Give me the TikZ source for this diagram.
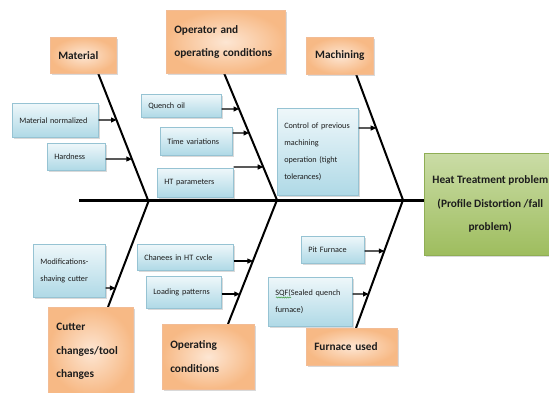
\documentclass[tikz,border=0pt]{standalone}
\usepackage{fontspec}
\setmainfont{Carlito}
\usetikzlibrary{arrows.meta,shadows,calc,decorations.pathmorphing}
\definecolor{bluetop}{HTML}{EEF7FA}
\definecolor{bluebot}{HTML}{AFD9E6}
\definecolor{blueedge}{HTML}{96C3D3}
\definecolor{orin}{HTML}{FDE6D3}
\definecolor{orout}{HTML}{F7B985}
\definecolor{oredge}{HTML}{F2BC95}
\definecolor{grtop}{HTML}{CADCA6}
\definecolor{grbot}{HTML}{9EBD5E}
\definecolor{gredge}{HTML}{8FAE55}
\definecolor{txt}{HTML}{1C1C1C}
\definecolor{squiggle}{HTML}{3E9B3E}
\newcommand{\smallfnt}{\fontsize{8.2}{17}\selectfont}
\newcommand{\headfnt}{\fontsize{11.3}{23.5}\selectfont\bfseries}
\begin{document}
\begin{tikzpicture}[x=1pt,y=-1pt,
  shadowed/.style={drop shadow={shadow xshift=1.2pt,shadow yshift=-1.6pt,opacity=0.3}},
  bluebox/.style={shadowed,draw=blueedge,line width=0.6pt,top color=bluetop,bottom color=bluebot,
    inner xsep=7pt,inner ysep=1pt,align=left,font=\smallfnt,text=txt,anchor=north west},
  orbox/.style={shadowed,draw=oredge,line width=0.6pt,inner color=orin,outer color=orout,
    inner xsep=8pt,inner ysep=1pt,align=left,font=\headfnt,text=txt,anchor=north west},
  grbox/.style={shadowed,draw=gredge,line width=0.6pt,top color=grtop,bottom color=grbot,
    inner ysep=1pt,align=center,font=\headfnt,text=txt,anchor=north west},
  bone/.style={line width=2pt,black},
  spine/.style={line width=3pt,black},
  arr/.style={line width=1.1pt,black,-{Triangle[length=5.5pt,width=5pt]}},
  squig/.style={draw=squiggle,line width=0.5pt,decorate,decoration={snake,amplitude=0.6pt,segment length=2.2pt}}
]
\useasboundingbox (0,0) rectangle (549,392);
\clip (0,0) rectangle (549,392);

% bone end points
\coordinate (spL) at (79,200);
\coordinate (mT) at (98,73);   \coordinate (mB) at (148,200);
\coordinate (oT) at (224,73);  \coordinate (oB) at (277,200);
\coordinate (kT) at (356,74);  \coordinate (kB) at (403,200);
\coordinate (cB) at (149,200); \coordinate (cT) at (108,307);
\coordinate (pB) at (277,200); \coordinate (pT) at (228,324);
\coordinate (fB) at (403,200); \coordinate (fT) at (356,328);

% bones and spine
\draw[bone] (mT) -- (mB);
\draw[bone] (oT) -- (oB);
\draw[bone] (kT) -- (kB);
\draw[bone] (cT) -- (cB);
\draw[bone] (pT) -- (pB);
\draw[bone] (fT) -- (fB);

% header boxes
\node[orbox,minimum width=66pt,minimum height=36pt,text width=50pt] (mat) at (50,37) {Material};
\node[orbox,minimum width=119pt,minimum height=63pt,text width=103pt] (opr) at (166,10) {Operator and\\operating conditions};
\node[orbox,minimum width=67pt,minimum height=37pt,align=center] (mac) at (306,37) {Machining};
\node[orbox,minimum width=85pt,minimum height=88pt,text width=69pt] (cut) at (48,307) {Cutter\\changes/tool\\changes};
\node[orbox,minimum width=92pt,minimum height=65pt,text width=76pt] (opc) at (162,324) {Operating\\conditions};
\node[orbox,minimum width=91pt,minimum height=37pt,text width=75pt] (fur) at (306,328) {Furnace used};

% problem box
\node[grbox,minimum width=132pt,minimum height=102pt] (prob) at (424,153) {Heat Treatment problem\\(Profile Distortion /fall\\problem)};
\draw[spine] (spL) -- (spL -| prob.west);

% cause boxes
\node[bluebox,minimum width=86pt,minimum height=34pt,text width=72pt] (mn) at (12,103) {Material normalized};
\node[bluebox,minimum width=58pt,minimum height=27pt,text width=44pt] (hd) at (47,143) {Hardness};
\node[bluebox,minimum width=80pt,minimum height=23pt,text width=66pt] (qo) at (141,94) {Quench oil};
\node[bluebox,minimum width=72pt,minimum height=28pt,text width=58pt] (tv) at (160,127) {Time variations};
\node[bluebox,minimum width=76pt,minimum height=29pt,text width=62pt] (ht) at (157,168) {HT parameters};
\node[bluebox,minimum width=81pt,minimum height=87pt,text width=67pt] (ctl) at (277,108) {Control of previous\\machining\\operation (tight\\tolerances)};
\node[bluebox,minimum width=72pt,minimum height=53pt,text width=58pt] (mod) at (33,244) {Modifications-\\shaving cutter};
\node[bluebox,minimum width=96pt,minimum height=26pt,text width=82pt] (chg) at (137,244) {Chanees in HT cvcle};
\node[bluebox,minimum width=75pt,minimum height=32pt,text width=61pt] (lp) at (146,276) {Loading patterns};
\node[bluebox,minimum width=63pt,minimum height=27pt,text width=49pt] (pit) at (301,236) {Pit Furnace};
\node[bluebox,minimum width=84pt,minimum height=49pt,text width=70pt] (sqf) at (268,277) {SQF(Sealed quench\\furnace)};
\draw[squig] ($(sqf.north west)+(8,20.5)$) -- ++(15,0);

% arrows from causes to bones
\draw[arr] (mn.east |- 0,120) -- (intersection of 0,120--10,120 and mT--mB);
\draw[arr] (hd.east |- 0,159) -- (intersection of 0,159--10,159 and mT--mB);
\draw[arr] (qo.east |- 0,109) -- (intersection of 0,109--10,109 and oT--oB);
\draw[arr] (tv.east |- 0,133) -- (intersection of 0,133--10,133 and oT--oB);
\draw[arr] (ht.east |- 0,167) -- (intersection of 0,167--10,167 and oT--oB);
\draw[arr] (ctl.east |- 0,128) -- (intersection of 0,128--10,128 and kT--kB);
\draw[arr] (mod.east |- 0,288) -- (intersection of 0,288--10,288 and cT--cB);
\draw[arr] (chg.east |- 0,261) -- (intersection of 0,261--10,261 and pT--pB);
\draw[arr] (lp.east |- 0,294) -- (intersection of 0,294--10,294 and pT--pB);
\draw[arr] (pit.east |- 0,251) -- (intersection of 0,251--10,251 and fT--fB);
\draw[arr] (sqf.east |- 0,294) -- (intersection of 0,294--10,294 and fT--fB);
\end{tikzpicture}
\end{document}
